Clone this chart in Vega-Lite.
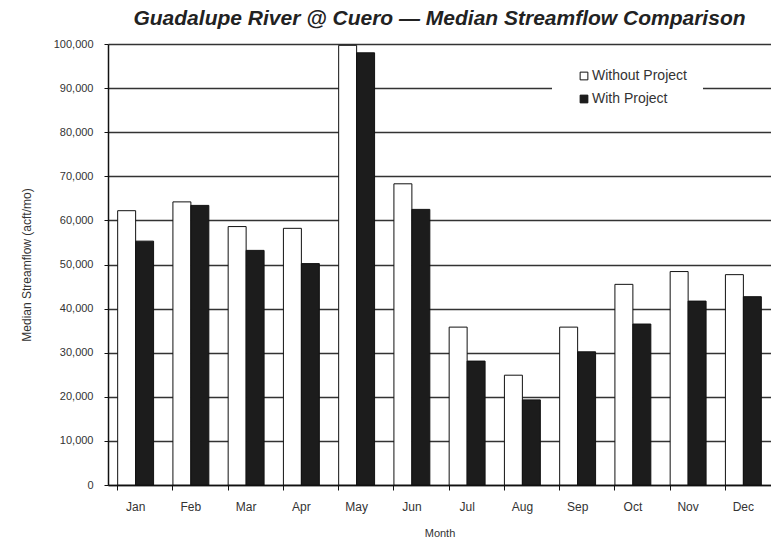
{
  "$schema": "https://vega.github.io/schema/vega-lite/v6.json",
  "width": 663,
  "height": 441,
  "autosize": {"type": "none"},
  "padding": {"left": 108, "top": 44, "right": 0, "bottom": 57},
  "background": "white",
  "title": {
    "text": "Guadalupe River @ Cuero — Median Streamflow Comparison",
    "font": "Liberation Sans",
    "fontSize": 21,
    "fontWeight": "bold",
    "fontStyle": "italic",
    "color": "#222",
    "anchor": "middle",
    "offset": 9
  },
  "data": {
    "values": [
      {"month": "Jan", "series": "Without Project", "flow": 62200},
      {"month": "Jan", "series": "With Project", "flow": 55300},
      {"month": "Feb", "series": "Without Project", "flow": 64200},
      {"month": "Feb", "series": "With Project", "flow": 63400},
      {"month": "Mar", "series": "Without Project", "flow": 58600},
      {"month": "Mar", "series": "With Project", "flow": 53200},
      {"month": "Apr", "series": "Without Project", "flow": 58200},
      {"month": "Apr", "series": "With Project", "flow": 50200},
      {"month": "May", "series": "Without Project", "flow": 99700},
      {"month": "May", "series": "With Project", "flow": 98000},
      {"month": "Jun", "series": "Without Project", "flow": 68300},
      {"month": "Jun", "series": "With Project", "flow": 62500},
      {"month": "Jul", "series": "Without Project", "flow": 35800},
      {"month": "Jul", "series": "With Project", "flow": 28100},
      {"month": "Aug", "series": "Without Project", "flow": 24900},
      {"month": "Aug", "series": "With Project", "flow": 19300},
      {"month": "Sep", "series": "Without Project", "flow": 35800},
      {"month": "Sep", "series": "With Project", "flow": 30200},
      {"month": "Oct", "series": "Without Project", "flow": 45500},
      {"month": "Oct", "series": "With Project", "flow": 36500},
      {"month": "Nov", "series": "Without Project", "flow": 48400},
      {"month": "Nov", "series": "With Project", "flow": 41700},
      {"month": "Dec", "series": "Without Project", "flow": 47700},
      {"month": "Dec", "series": "With Project", "flow": 42700}
    ]
  },
  "mark": {"type": "bar", "stroke": "#111", "strokeWidth": 1},
  "encoding": {
    "x": {
      "field": "month",
      "type": "nominal",
      "sort": ["Jan", "Feb", "Mar", "Apr", "May", "Jun", "Jul", "Aug", "Sep", "Oct", "Nov", "Dec"],
      "scale": {"paddingInner": 0.35, "paddingOuter": 0.175},
      "axis": {
        "title": "Month",
        "labelAngle": 0,
        "bandPosition": 0,
        "tickSize": 5,
        "tickColor": "#111",
        "tickWidth": 1,
        "domainColor": "#111",
        "domainWidth": 1.5,
        "labelFont": "Liberation Sans",
        "labelFontSize": 12,
        "labelColor": "#333",
        "labelPadding": 11,
        "titleFont": "Liberation Sans",
        "titleFontSize": 11,
        "titleFontWeight": "normal",
        "titleColor": "#333",
        "titlePadding": 15
      }
    },
    "xOffset": {
      "field": "series",
      "type": "nominal",
      "sort": ["Without Project", "With Project"],
      "scale": {"paddingInner": 0, "paddingOuter": 0}
    },
    "y": {
      "field": "flow",
      "type": "quantitative",
      "scale": {"domain": [0, 100000], "nice": false},
      "axis": {
        "title": "Median Streamflow (acft/mo)",
        "format": ",d",
        "values": [0, 10000, 20000, 30000, 40000, 50000, 60000, 70000, 80000, 90000, 100000],
        "grid": true,
        "gridColor": "#333",
        "gridWidth": 1.3,
        "tickSize": 4,
        "tickColor": "#111",
        "domainColor": "#111",
        "domainWidth": 1.5,
        "labelFont": "Liberation Sans",
        "labelFontSize": 11,
        "labelColor": "#333",
        "labelPadding": 11,
        "titleFont": "Liberation Sans",
        "titleFontSize": 12,
        "titleFontWeight": "normal",
        "titleColor": "#333",
        "titlePadding": 20
      }
    },
    "fill": {
      "field": "series",
      "type": "nominal",
      "sort": ["Without Project", "With Project"],
      "scale": {"domain": ["Without Project", "With Project"], "range": ["#ffffff", "#1c1c1c"]},
      "legend": {
        "title": null,
        "orient": "none",
        "legendX": 444,
        "legendY": 9,
        "padding": 16,
        "fillColor": "white",
        "symbolType": "square",
        "symbolSize": 60,
        "symbolStrokeColor": "#111",
        "symbolStrokeWidth": 1,
        "symbolOffset": 9,
        "labelOffset": 1,
        "labelFont": "Liberation Sans",
        "labelFontSize": 14,
        "labelColor": "#333",
        "rowPadding": 9
      }
    }
  },
  "config": {"view": {"stroke": null}}
}
